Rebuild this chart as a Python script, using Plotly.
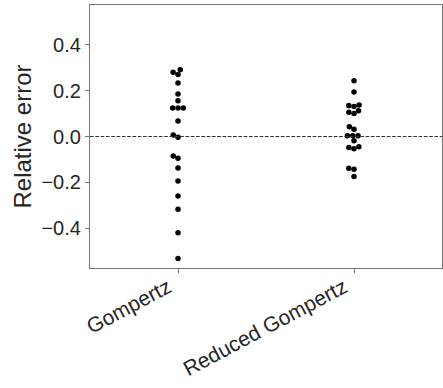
import numpy as np
import plotly.graph_objects as go

categories = ["Gompertz", "Reduced Gompertz"]
gompertz = [0.2915, 0.280, 0.271, 0.233, 0.185, 0.156, 0.124, 0.124, 0.124, 0.068,
            0.007, -0.003, -0.085, -0.095, -0.137, -0.194, -0.260, -0.318, -0.420, -0.533]
reduced_gompertz = [0.243, 0.194, 0.138, 0.135, 0.131, 0.112, 0.106, 0.100, 0.043, 0.032,
                    0.003, 0.003, 0.003, -0.019, -0.045, -0.048, -0.054, -0.139, -0.143, -0.175]
series = [gompertz, reduced_gompertz]
y_ticks = [-0.4, -0.2, 0.0, 0.2, 0.4]

W, H = 443, 388
M = dict(l=90, r=1, t=5, b=120)
y_range = [-0.574, 0.574]
x_range = [-0.5, 1.5]
py_per_unit = (H - M["t"] - M["b"]) / (y_range[1] - y_range[0])
px_per_unit = (W - M["l"] - M["r"]) / (x_range[1] - x_range[0])
D = 5.2  # marker spacing in px


def swarm(vals):
    vals = np.asarray(vals, dtype=float)
    order = np.argsort(vals, kind="stable")
    placed = []
    offs = np.zeros(len(vals))
    for i in order:
        y = vals[i] * py_per_unit
        neigh = [(px, pyy) for px, pyy in placed if abs(pyy - y) < D]
        cands = [0.0]
        for px, pyy in neigh:
            dx = np.sqrt(D * D - (pyy - y) ** 2) * 1.02
            cands.extend([px - dx, px + dx])
        idx = np.argsort(np.abs(cands), kind="stable")
        chosen = 0.0
        for k in idx:
            c = cands[k]
            if all((c - px) ** 2 + (y - pyy) ** 2 >= D * D * 0.999 for px, pyy in neigh):
                chosen = c
                break
        offs[i] = chosen
        placed.append((chosen, y))
    return offs / px_per_unit


fig = go.Figure()
for ci, vals in enumerate(series):
    xo = swarm(vals)
    fig.add_trace(go.Scatter(
        x=ci + xo, y=vals, mode="markers",
        marker=dict(color="black", size=5.5, line=dict(width=0)),
        showlegend=False, hoverinfo="y"))

fig.add_hline(y=0, line=dict(color="#333333", width=1, dash="3.7px,1.6px"))

axis_col = "#777777"
fig.update_layout(
    width=W, height=H, margin=M,
    paper_bgcolor="white", plot_bgcolor="white",
    font=dict(family="Liberation Sans, Arial, sans-serif", color="#262626"),
    xaxis=dict(range=x_range, tickvals=[0, 1], ticktext=categories, tickangle=-28,
               showgrid=False, zeroline=False, showline=True, mirror=True,
               linecolor=axis_col, linewidth=1.25, ticks="outside", ticklen=4,
               tickcolor=axis_col, tickwidth=1, tickfont=dict(size=21),
               ticklabelshift=-10, ticklabelstandoff=-6),
    yaxis=dict(range=y_range, tickvals=y_ticks, tickformat=".1f",
               showgrid=False, zeroline=False, showline=True, mirror=True,
               linecolor=axis_col, linewidth=1.25, ticks="outside", ticklen=4,
               tickcolor=axis_col, tickwidth=1, tickfont=dict(size=20),
               title=dict(text="Relative error", font=dict(size=24), standoff=2)),
)
fig.write_html("out.html")
